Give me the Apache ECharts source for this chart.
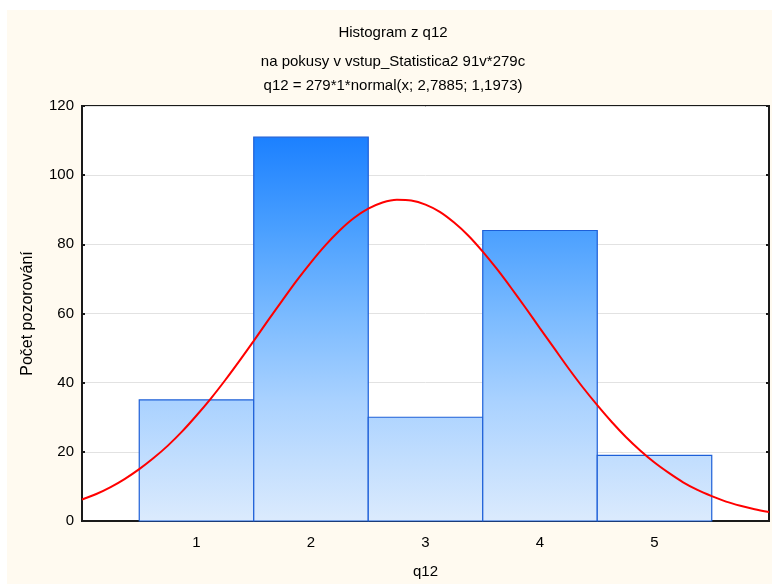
<!DOCTYPE html>
<html>
<head>
<meta charset="utf-8">
<script src="https://cdn.jsdelivr.net/npm/echarts@6/dist/echarts.min.js"></script>
<style>html,body{margin:0;padding:0;background:#fff;}#c{width:772px;height:584px;}</style>
</head>
<body>
<div id="c"></div>
<script>
// Histogram bins (class value, count)
var binCenters = [1, 2, 3, 4, 5];
var binCounts = [35, 111, 30, 84, 19];
// Fitted normal curve (x, expected count)
var curveX = [0, 0.125, 0.25, 0.375, 0.5, 0.625, 0.75, 0.875, 1, 1.125, 1.25, 1.375, 1.5, 1.625, 1.75, 1.875,
              2, 2.125, 2.25, 2.375, 2.5, 2.625, 2.75, 2.875, 3, 3.125, 3.25, 3.375, 3.5, 3.625, 3.75, 3.875,
              4, 4.125, 4.25, 4.375, 4.5, 4.625, 4.75, 4.875, 5, 5.125, 5.25, 5.375, 5.5, 5.625, 5.75, 5.875, 6];
var curveY = [6.2, 7.8, 9.8, 12.2, 15.0, 18.2, 21.8, 25.9, 30.5, 35.4, 40.7, 46.3, 52.1, 58.0, 63.8, 69.5,
              74.8, 79.7, 84.0, 87.6, 90.3, 92.1, 92.9, 92.7, 91.5, 89.4, 86.3, 82.5, 77.9, 72.8, 67.3, 61.6,
              55.7, 49.9, 44.1, 38.6, 33.5, 28.7, 24.3, 20.4, 16.9, 13.9, 11.2, 9.0, 7.2, 5.6, 4.4, 3.4, 2.6];
var xTicks = [1, 2, 3, 4, 5];
var yTicks = [0, 20, 40, 60, 80, 100, 120];
var titleLines = ['Histogram z q12', 'na pokusy v vstup_Statistica2 91v*279c', 'q12 = 279*1*normal(x; 2,7885; 1,1973)'];

var FONT = '"Liberation Sans", Arial, sans-serif';
var chart = echarts.init(document.getElementById('c'), null, {renderer: 'canvas'});

var barData = binCenters.map(function (c, i) { return [c - 0.5, c + 0.5, binCounts[i]]; });
var curveData = curveX.map(function (x, i) { return [x, curveY[i]]; });

var plotTop = 106, plotBottom = 523;
var grad = new echarts.graphic.LinearGradient(0, plotTop, 0, plotBottom, [
  {offset: 0, color: 'rgb(12,118,255)'},
  {offset: 0.3, color: 'rgb(75,160,255)'},
  {offset: 0.5, color: 'rgb(122,186,255)'},
  {offset: 0.71, color: 'rgb(170,210,255)'},
  {offset: 1, color: 'rgb(220,235,253)'}
], true);

var option = {
  backgroundColor: '#ffffff',
  animation: false,
  graphic: [
    {type: 'rect', z: -10, silent: true, shape: {x: 7, y: 10, width: 765, height: 574}, style: {fill: '#fffaf0'}},
    {type: 'text', x: 393, y: 33, style: {text: titleLines[0], font: '15px ' + FONT, fill: '#000', textAlign: 'center', textVerticalAlign: 'middle'}},
    {type: 'text', x: 393, y: 62, style: {text: titleLines[1], font: '15px ' + FONT, fill: '#000', textAlign: 'center', textVerticalAlign: 'middle'}},
    {type: 'text', x: 393, y: 86, style: {text: titleLines[2], font: '15px ' + FONT, fill: '#000', textAlign: 'center', textVerticalAlign: 'middle'}}
  ],
  grid: {left: 82, top: plotTop, right: 3, bottom: 584 - plotBottom, show: true, backgroundColor: '#ffffff', borderColor: '#1a1a1a', borderWidth: 2},
  xAxis: {
    type: 'value', min: 0, max: 6, interval: 1,
    name: 'q12', nameLocation: 'middle', nameGap: 43,
    nameTextStyle: {fontFamily: FONT, fontSize: 15, color: '#000'},
    axisLine: {show: true, lineStyle: {color: '#1a1a1a', width: 2}},
    axisTick: {show: true, inside: true, length: 4, customValues: xTicks, lineStyle: {color: '#1a1a1a', width: 2}},
    axisLabel: {customValues: xTicks, margin: 14, fontFamily: FONT, fontSize: 15, color: '#000'},
    splitLine: {show: false}
  },
  yAxis: [{
    type: 'value', min: 0, max: 120, interval: 20,
    name: 'Počet pozorování', nameLocation: 'middle', nameGap: 46, nameRotate: 90,
    nameTextStyle: {fontFamily: FONT, fontSize: 16, color: '#000'},
    axisLine: {show: true, lineStyle: {color: '#1a1a1a', width: 2}},
    axisTick: {show: true, inside: true, length: 3, lineStyle: {color: '#1a1a1a', width: 2}},
    axisLabel: {margin: 8, fontFamily: FONT, fontSize: 15, color: '#000'},
    splitLine: {show: true, lineStyle: {color: '#e2e2e2', width: 1}}
  }, {
    type: 'value', min: 0, max: 120, interval: 20, position: 'right',
    axisLine: {show: true, lineStyle: {color: '#1a1a1a', width: 2}},
    axisTick: {show: true, inside: true, length: 3, lineStyle: {color: '#1a1a1a', width: 2}},
    axisLabel: {show: false}, splitLine: {show: false}
  }],
  series: [{
    type: 'custom',
    data: barData,
    encode: {x: [0, 1], y: 2},
    renderItem: function (params, api) {
      var p0 = api.coord([api.value(0), 0]);
      var p1 = api.coord([api.value(1), api.value(2)]);
      return {
        type: 'rect',
        shape: {x: p0[0], y: p1[1], width: p1[0] - p0[0], height: p0[1] - p1[1]},
        style: {fill: grad, stroke: '#1d5fd8', lineWidth: 1.2}
      };
    },
    z: 2
  }, {
    type: 'line',
    data: curveData,
    smooth: 0.3,
    showSymbol: false,
    lineStyle: {color: '#ff0000', width: 2},
    z: 3
  }]
};
chart.setOption(option);
</script>
</body>
</html>
